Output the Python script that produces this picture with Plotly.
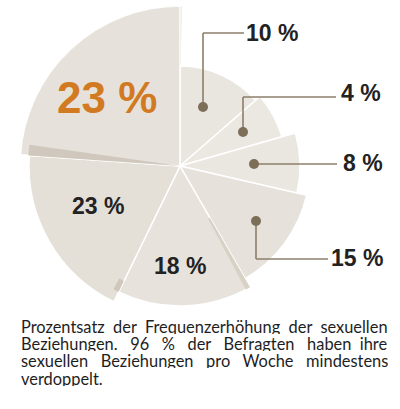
import plotly.graph_objects as go

# Werte (Beschriftungen) der Segmente, im Uhrzeigersinn ab 12 Uhr
labels = ["10 %", "4 %", "8 %", "15 %", "18 %", "23 %", "23 %"]
values = [10, 4, 8, 15, 18, 23, 23]
# Winkel (Grad) und Radius (Pixel) der Segmente
span_deg = [49, 25, 29, 47, 56, 68, 86]
radius = [100, 106, 120, 130, 140, 151, 160]
fills = ["#E9E5DF", "#EBE7E1", "#EAE6E0", "#E6E1DA", "#E7E2DB", "#E4DFD7", "#E6E2DB"]

caption = [
    "Prozentsatz der Frequenzerhöhung der sexuellen",
    "Beziehungen. 96 % der Befragten haben ihre",
    "sexuellen Beziehungen pro Woche mindestens",
    "verdoppelt.",
]

W, H = 400, 409
CX, CY = 180, 166   # Mittelpunkt in Pixel
RMAX = 160


def px(x):
    return x / W


def py(y):
    return 1 - y / H


# Mittelwinkel der Segmente
theta = []
start = 0
for s in span_deg:
    theta.append(start + s / 2)
    start += s

fig = go.Figure()

# Seitenflaeche rechts am grossen Segment (3D-Effekt)
fig.add_trace(go.Barpolar(r=[RMAX], theta=[359], width=[3],
                          marker=dict(color="#D3CCC1", line=dict(width=0)),
                          hoverinfo="skip"))

fig.add_trace(go.Barpolar(
    r=radius, theta=theta, width=span_deg,
    marker=dict(color=fills, line=dict(color="#FFFFFF", width=1.5)),
    hoverinfo="skip",
))

# Seitenflaechen / Schatten an den Kanten
b1 = sum(span_deg[:4])
b2 = sum(span_deg[:5])
b3 = sum(span_deg[:6])
fig.add_trace(go.Barpolar(
    r=[80, 12], base=[radius[4] - 80, radius[4] - 12],
    theta=[b1 + 1, b2 + 1.2], width=[2, 2.4],
    marker=dict(color=["#D8D1C6", "#CFC7BB"], line=dict(width=0)),
    hoverinfo="skip"))
fig.add_trace(go.Barpolar(r=[152], theta=[b3 + 2], width=[4],
                          marker=dict(color="#D0C8BC", line=dict(width=0)),
                          hoverinfo="skip"))

fig.update_layout(
    width=W, height=H,
    margin=dict(l=0, r=0, t=0, b=0),
    paper_bgcolor="white",
    showlegend=False,
    polar=dict(
        domain=dict(x=[px(CX - RMAX), px(CX + RMAX)],
                    y=[py(CY + RMAX), py(CY - RMAX)]),
        bgcolor="rgba(0,0,0,0)",
        bargap=0,
        radialaxis=dict(range=[0, RMAX], visible=False),
        angularaxis=dict(rotation=90, direction="clockwise", visible=False),
    ),
)

line_col = "#8C7E6A"
dot_col = "#7D6E58"

# Fuehrungslinien: (Punkt x, y) -> Knick -> Textanfang
leaders = [
    [(203, 107), (203, 33), (244, 33)],
    [(243, 132), (243, 97), (336, 97)],
    [(254, 164), (337, 164)],
    [(256, 221), (256, 259), (328, 259)],
]
for pts in leaders:
    for (x0, y0), (x1, y1) in zip(pts[:-1], pts[1:]):
        fig.add_shape(type="line", xref="paper", yref="paper",
                      x0=px(x0), y0=py(y0), x1=px(x1), y1=py(y1),
                      line=dict(color=line_col, width=1.6))
    x, y = pts[0]
    fig.add_shape(type="circle", xref="paper", yref="paper",
                  x0=px(x - 5), x1=px(x + 5), y0=py(y + 5), y1=py(y - 5),
                  fillcolor=dot_col, line=dict(width=0))

font_b = "Liberation Sans, Arial, sans-serif"
# Beschriftungen: x, y (Pixel), Anker
label_pos = [
    (244, 33, "left"),
    (339, 93, "left"),
    (341, 163, "left"),
    (329, 258, "left"),
    (180, 266, "center"),
    (98, 206, "center"),
    (107, 97, "center"),
]
for i, (x, y, anc) in enumerate(label_pos):
    big = i == 6
    fig.add_annotation(
        x=px(x), y=py(y), xref="paper", yref="paper",
        xanchor=anc, yanchor="middle", showarrow=False,
        text="<b>%s</b>" % labels[i],
        font=dict(family=font_b, size=44 if big else 23,
                  color="#D27A22" if big else "#222222"),
    )

# Bildunterschrift (Blocksatz durch zusaetzliche Wortabstaende)
gaps = [[1, 1, 1, 1], [2, 2, 2, 2, 2, 1], [2, 2, 2, 2], []]
for k, line in enumerate(caption):
    words = line.split(" ")
    txt = words[0]
    for g, w in zip(gaps[k], words[1:]):
        txt += " " + "\u00a0" * g + w
    fig.add_annotation(
        x=px(19), y=py(326 + 17.2 * k), xref="paper", yref="paper",
        xanchor="left", yanchor="middle", showarrow=False,
        height=16,
        text=txt,
        font=dict(family="Lato, sans-serif", size=16.4, color="#1E1E1E"),
    )

# Standardrand des Browsers entfernen
fig.write_html("out.html", config={"displayModeBar": False},
               post_script="document.body.style.margin='0';")
